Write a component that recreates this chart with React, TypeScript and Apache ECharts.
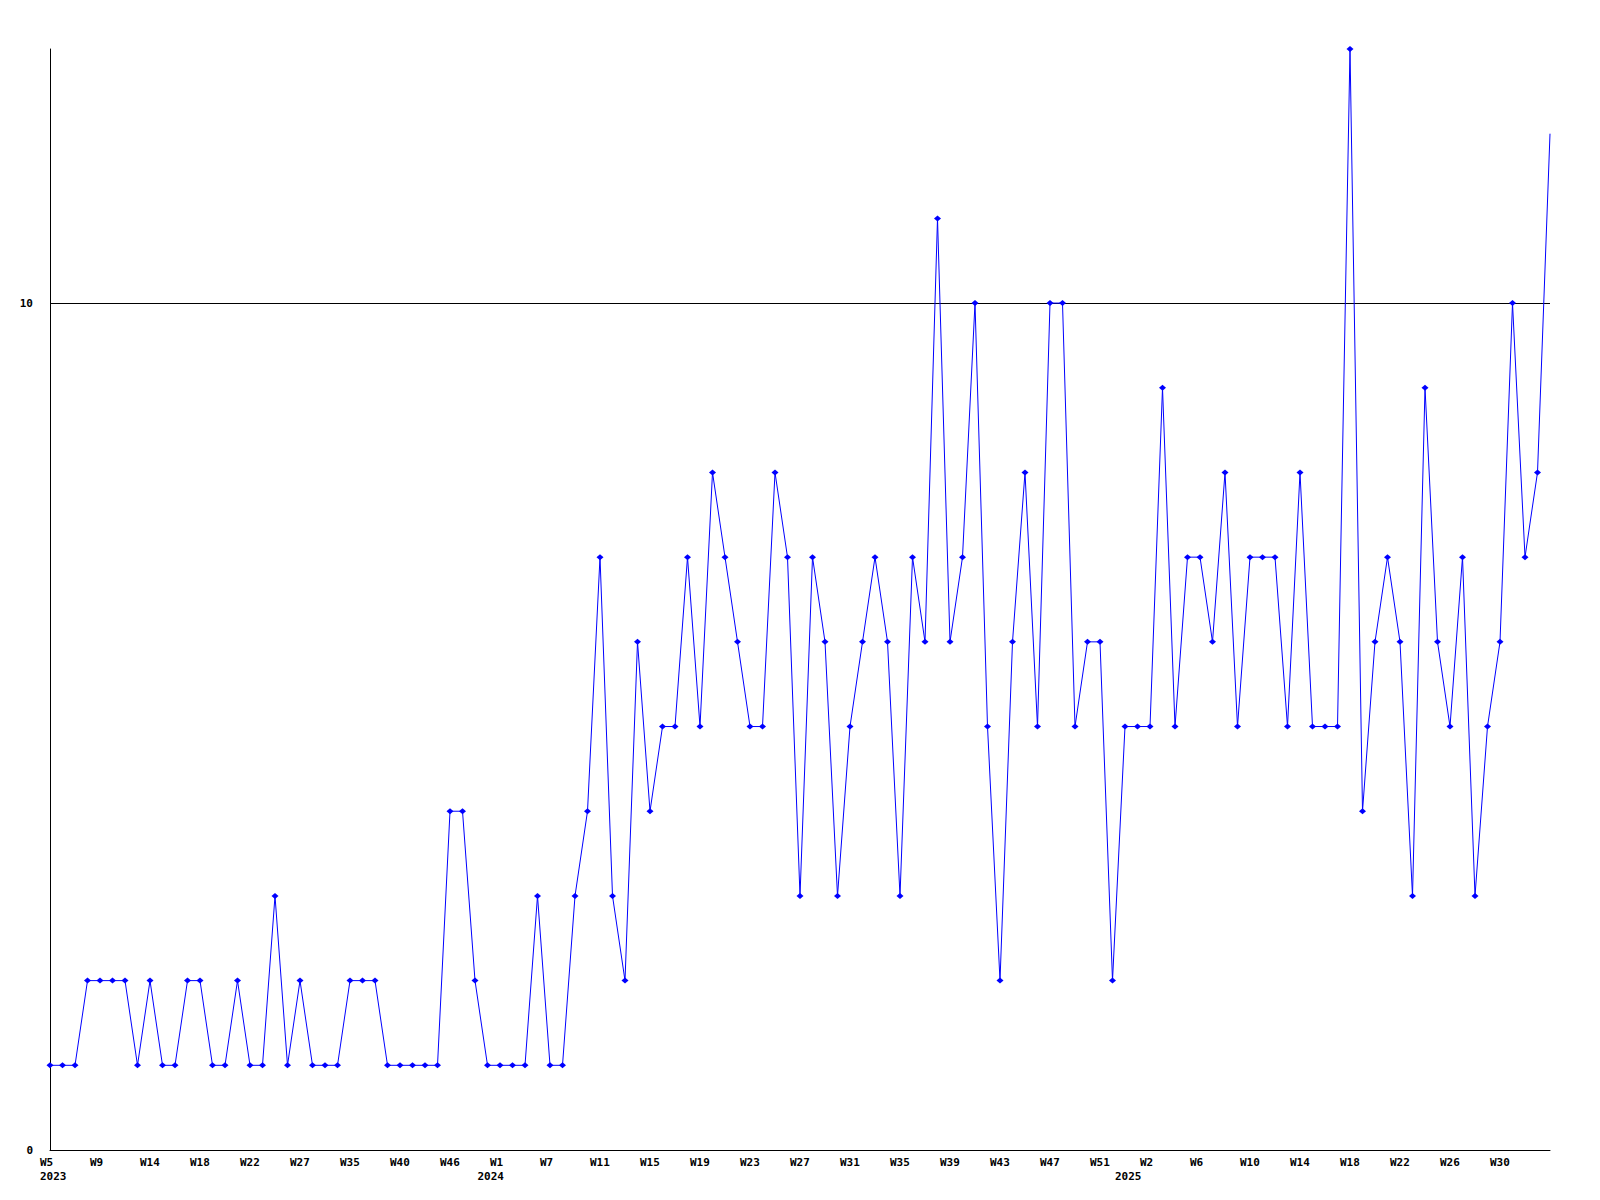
import React, { useEffect, useRef } from "react";
import * as echarts from "echarts";

const weeks: string[] = [
  "2023-W5", "2023-W6", "2023-W7", "2023-W8", "2023-W9", "2023-W10", "2023-W12", "2023-W13", "2023-W14", "2023-W15",
  "2023-W16", "2023-W17", "2023-W18", "2023-W19", "2023-W20", "2023-W21", "2023-W22", "2023-W23", "2023-W25", "2023-W26",
  "2023-W27", "2023-W29", "2023-W31", "2023-W33", "2023-W35", "2023-W36", "2023-W37", "2023-W38", "2023-W40", "2023-W41",
  "2023-W43", "2023-W44", "2023-W46", "2023-W48", "2023-W50", "2023-W52",
  "2024-W1", "2024-W3", "2024-W4", "2024-W6", "2024-W7", "2024-W8", "2024-W9", "2024-W10", "2024-W11", "2024-W12",
  "2024-W13", "2024-W14", "2024-W15", "2024-W16", "2024-W17", "2024-W18", "2024-W19", "2024-W20", "2024-W21", "2024-W22",
  "2024-W23", "2024-W24", "2024-W25", "2024-W26", "2024-W27", "2024-W28", "2024-W29", "2024-W30", "2024-W31", "2024-W32",
  "2024-W33", "2024-W34", "2024-W35", "2024-W36", "2024-W37", "2024-W38", "2024-W39", "2024-W40", "2024-W41", "2024-W42",
  "2024-W43", "2024-W44", "2024-W45", "2024-W46", "2024-W47", "2024-W48", "2024-W49", "2024-W50", "2024-W51", "2024-W52",
  "2025-W0", "2025-W1", "2025-W2", "2025-W3", "2025-W4", "2025-W5", "2025-W6", "2025-W7", "2025-W8", "2025-W9",
  "2025-W10", "2025-W11", "2025-W12", "2025-W13", "2025-W14", "2025-W15", "2025-W16", "2025-W17", "2025-W18", "2025-W19",
  "2025-W20", "2025-W21", "2025-W22", "2025-W23", "2025-W24", "2025-W25", "2025-W26", "2025-W27", "2025-W28", "2025-W29",
  "2025-W30", "2025-W31", "2025-W32", "2025-W33", "2025-W34",
];

const counts: number[] = [
  1, 1, 1, 2, 2, 2, 2, 1, 2, 1,
  1, 2, 2, 1, 1, 2, 1, 1, 3, 1,
  2, 1, 1, 1, 2, 2, 2, 1, 1, 1,
  1, 1, 4, 4, 2, 1, 1, 1, 1, 3,
  1, 1, 3, 4, 7, 3, 2, 6, 4, 5,
  5, 7, 5, 8, 7, 6, 5, 5, 8, 7,
  3, 7, 6, 3, 5, 6, 7, 6, 3, 7,
  6, 11, 6, 7, 10, 5, 2, 6, 8, 5,
  10, 10, 5, 6, 6, 2, 5, 5, 5, 9,
  5, 7, 7, 6, 8, 5, 7, 7, 7, 5,
  8, 5, 5, 5, 13, 4, 6, 7, 6, 3,
  9, 6, 5, 7, 3, 5, 6, 10, 7, 8, 12,
];

const yearLabels: string[] = ["2023", "2024", "2025"];
const yearLabelIndex: number[] = [0, 35, 86];

const FONT = "DejaVu Sans Mono";

export default function App() {
  const ref = useRef<HTMLDivElement>(null);
  useEffect(() => {
    if (!ref.current) return;
    const chart = echarts.init(ref.current, undefined, { renderer: "svg" });
    const labelStyle = {
      fontFamily: FONT,
      fontWeight: "bold" as const,
      fontSize: 11,
      color: "#000",
    };
    const last = counts.length - 1;
    const seriesData = counts.map((v, i) =>
      i === last ? { value: v, symbol: "none" } : v
    );
    chart.setOption({
      animation: false,
      backgroundColor: "#fff",
      grid: [
        { left: 50, right: 50, top: 49, bottom: 50, containLabel: false },
        { left: 40, right: 60, top: 49, bottom: 50, containLabel: false },
      ],
      xAxis: [
        {
          type: "category",
          gridIndex: 0,
          position: "bottom",
          data: weeks,
          boundaryGap: false,
          axisLine: { show: true, lineStyle: { color: "#000", width: 1 } },
          axisTick: { show: false },
          axisLabel: { show: false },
          splitLine: { show: false },
        },
        {
          type: "category",
          gridIndex: 1,
          position: "bottom",
          data: weeks,
          boundaryGap: false,
          axisLine: { show: false },
          axisTick: { show: false },
          splitLine: { show: false },
          axisLabel: {
            ...labelStyle,
            interval: 3,
            align: "left",
            margin: 7,
            formatter: (v: string, idx: number) => (idx === last ? "" : v.split("-")[1]),
          },
        },
        {
          type: "category",
          gridIndex: 1,
          position: "bottom",
          data: weeks,
          boundaryGap: false,
          axisLine: { show: false },
          axisTick: { show: false },
          splitLine: { show: false },
          axisLabel: {
            ...labelStyle,
            interval: 0,
            align: "left",
            margin: 21,
            formatter: (_v: string, idx: number) => {
              const k = yearLabelIndex.indexOf(idx);
              return k >= 0 ? yearLabels[k] : "";
            },
          },
        },
      ],
      yAxis: [
        {
          type: "value",
          gridIndex: 0,
          min: 0,
          max: 13,
          interval: 10,
          axisLine: { show: true, lineStyle: { color: "#000", width: 1 } },
          axisTick: { show: false },
          splitLine: {
            show: true,
            lineStyle: {
              color: ["rgba(0,0,0,0)", "#000", "rgba(0,0,0,0)"],
              width: 1,
              type: "solid",
            },
          },
          axisLabel: {
            ...labelStyle,
            margin: 17,
            showMaxLabel: false,
            formatter: (v: number) => (v === 0 || v === 10 ? String(v) : ""),
          },
        },
        {
          type: "value",
          gridIndex: 1,
          min: 0,
          max: 13,
          show: false,
        },
      ],
      series: [
        {
          type: "line",
          xAxisIndex: 0,
          yAxisIndex: 0,
          data: seriesData,
          symbol: "diamond",
          symbolSize: [7, 6],
          showAllSymbol: true,
          itemStyle: { color: "#0000ff" },
          lineStyle: { color: "#0000ff", width: 1 },
          emphasis: { disabled: true },
        },
      ],
    });
    return () => chart.dispose();
  }, []);
  return (
    <div
      ref={ref}
      style={{ position: "absolute", left: 0, top: 0, width: 1600, height: 1200, background: "#fff" }}
    />
  );
}
